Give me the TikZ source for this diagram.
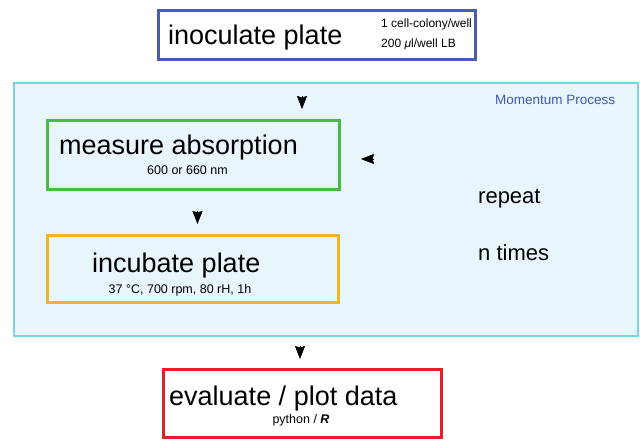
\documentclass[tikz,border=0pt]{standalone}
\usepackage{fontspec}
\setmainfont{Liberation Sans}
\usetikzlibrary{arrows.meta}
\definecolor{plateblue}{RGB}{72,92,178}
\definecolor{measuregreen}{RGB}{76,184,72}
\definecolor{incubateorange}{RGB}{240,182,30}
\definecolor{evalred}{RGB}{230,30,42}
\definecolor{loopfill}{RGB}{232,245,251}
\definecolor{loopline}{RGB}{120,214,226}
\definecolor{loopblue}{RGB}{66,88,172}
\begin{document}
\begin{tikzpicture}
[x=1pt,y=-1pt,
  boxdecorate/.style={shape=rectangle,draw,line width=3pt,inner sep=0pt},%
  bigtext/.style={inner sep=0pt,anchor=base west,font=\fontsize{27}{30}\selectfont},%
  smalltext/.style={inner sep=0pt,anchor=base,font=\fontsize{12.5}{15}\selectfont},%
  looptext/.style={inner sep=0pt,anchor=base west,font=\fontsize{22}{26}\selectfont},%
  tipdecorate/.style={-{Stealth[length=13pt,width=10pt,inset=1.5pt]},line width=0.4pt}]
\useasboundingbox (0,0) rectangle (642,440);
%% loop background
\node (loop) at (326,209.5) [draw=loopline,fill=loopfill,line width=1.5pt,
  minimum width=624pt,minimum height=253pt,inner sep=0pt] {};
\node (looplabel) at (495,104) [inner sep=0pt,anchor=base west,text=loopblue,
  font=\fontsize{13.5}{16}\selectfont] {Momentum Process};
%% boxes
\foreach \nodename/\x/\y/\w/\h/\col in {plate/317/35/317/49/plateblue,
  measure/193/154.5/292/69/measuregreen, incubate/193/269/291/67/incubateorange,
  evaluate/302.5/403.5/278/68/evalred} {
  \node (\nodename) at (\x,\y) [boxdecorate,draw=\col,minimum width=\w pt,minimum height=\h pt] {};
}
%% texts
\node (platetitle) at (168,44) [bigtext] {inoculate plate};
\node (platenote) at (381,27) [smalltext,anchor=base west,font=\fontsize{12}{14}\selectfont] {1 cell-colony/well};
\node (platevolume) at (381,47) [smalltext,anchor=base west,font=\fontsize{12}{14}\selectfont] {200 \textit{μ}l/well LB};
\node (measuretitle) at (59,154) [bigtext] {measure absorption};
\node (measurenote) at (187.5,174) [smalltext] {600 or 660 nm};
\node (incubatetitle) at (92,272) [bigtext] {incubate plate};
\node (incubatenote) at (180,293) [smalltext] {37 °C, 700 rpm, 80 rH, 1h};
\node (evaluatetitle) at (169,405) [bigtext] {evaluate / plot data};
\node (evaluatenote) at (301,423) [smalltext] {python / \textbf{\textit{R}}};
\node (repeat) at (478,203) [looptext] {repeat};
\node (ntimes) at (478,260) [looptext] {n times};
%% arrow tips
\foreach \tipname/\xa/\ya/\xb/\yb in {in/302/96/302/109, down/197.5/211/197.5/224,
  out/300/346/300/359, back/374/159/361/159} {
  \coordinate (\tipname-start) at (\xa,\ya);
  \coordinate (\tipname-end) at (\xb,\yb);
  \draw[tipdecorate] (\tipname-start) -- (\tipname-end);
}
\end{tikzpicture}
\end{document}
